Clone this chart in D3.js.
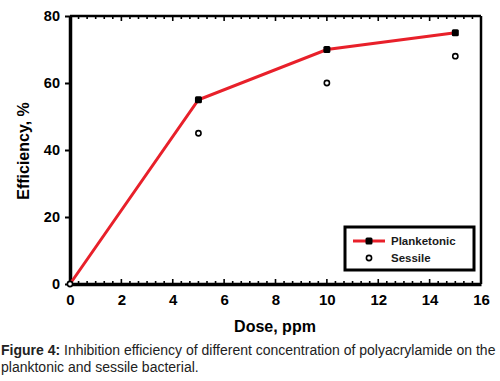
<!DOCTYPE html>
<html>
<head>
<meta charset="utf-8">
<script src="https://cdn.jsdelivr.net/npm/d3@7"></script>
<style>
  body { margin: 0; background: #fff; }
  svg { font-family: "Liberation Sans", Arial, sans-serif; }
</style>
</head>
<body>
<svg width="500" height="381"></svg>
<script>
// Data
const doses = [0, 5, 10, 15];
const planketonic = [0, 55, 70, 75];
const sessile = [0, 45, 60, 68];
const xTicks = [0, 2, 4, 6, 8, 10, 12, 14, 16];
const yTicks = [0, 20, 40, 60, 80];

const svg = d3.select("svg"),
    margin = { top: 16, right: 19, bottom: 97, left: 70 },
    width = 500 - margin.left - margin.right,
    height = 381 - margin.top - margin.bottom,
    g = svg.append("g").attr("transform", `translate(${margin.left},${margin.top})`);

const x = d3.scaleLinear().domain([0, 16]).range([0, width]);
const y = d3.scaleLinear().domain([0, 80]).range([height, 0]);

// minor ticks every 1/3 unit on the horizontal axes
const minor = d3.range(0, 16 * 3 + 1).map(i => i / 3);

// bottom minor/major ticks pointing inward
g.append("g")
    .selectAll("line")
    .data(minor)
    .join("line")
    .attr("x1", d => x(d)).attr("x2", d => x(d))
    .attr("y1", height)
    .attr("y2", (d, i) => height - (i % 6 === 0 ? 5 : 3))
    .attr("stroke", "#000").attr("stroke-width", 1.6);

// top ticks pointing down
g.append("g")
    .selectAll("line")
    .data(minor)
    .join("line")
    .attr("x1", d => x(d)).attr("x2", d => x(d))
    .attr("y1", 0)
    .attr("y2", (d, i) => (i % 6 === 0 ? 5 : 3))
    .attr("stroke", "#000").attr("stroke-width", 1.6);

// frame
g.append("line").attr("x1", 0).attr("x2", width).attr("y1", 0).attr("y2", 0)
    .attr("stroke", "#000").attr("stroke-width", 2.5);
g.append("line").attr("x1", width).attr("x2", width).attr("y1", 0).attr("y2", height)
    .attr("stroke", "#000").attr("stroke-width", 2.5);

// X axis
const xAxis = g.append("g")
    .attr("transform", `translate(0,${height})`)
    .call(d3.axisBottom(x).tickValues(xTicks).tickSize(0).tickPadding(10));
xAxis.select(".domain").attr("stroke-width", 3.5);
xAxis.selectAll("text")
    .attr("font-family", "Liberation Sans, Arial, sans-serif")
    .attr("font-size", 15).attr("font-weight", "bold").attr("fill", "#000");

// Y axis
const yAxis = g.append("g")
    .call(d3.axisLeft(y).tickValues(yTicks).tickSize(5).tickSizeOuter(0).tickPadding(5));
yAxis.select(".domain").attr("stroke-width", 3.5);
yAxis.selectAll(".tick line").attr("stroke-width", 2);
yAxis.selectAll("text")
    .attr("font-family", "Liberation Sans, Arial, sans-serif")
    .attr("font-size", 14.5).attr("font-weight", "bold").attr("fill", "#000");

// axis titles
svg.append("text")
    .attr("x", 275).attr("y", 332)
    .attr("text-anchor", "middle")
    .attr("font-size", 16).attr("font-weight", "bold")
    .text("Dose, ppm");

svg.append("text")
    .attr("transform", "rotate(-90)")
    .attr("x", -151).attr("y", 29)
    .attr("text-anchor", "middle")
    .attr("font-size", 16).attr("font-weight", "bold")
    .text("Efficiency, %");

// Planketonic line
const pts = doses.map((d, i) => ({ x: d, p: planketonic[i], s: sessile[i] }));
g.append("path")
    .datum(pts)
    .attr("fill", "none")
    .attr("stroke", "#e8202a")
    .attr("stroke-width", 3)
    .attr("d", d3.line().x(d => x(d.x)).y(d => y(d.p)));

g.selectAll(".pmark")
    .data(pts.slice(1))
    .join("rect")
    .attr("x", d => x(d.x) - 3.5).attr("y", d => y(d.p) - 3.5)
    .attr("width", 7).attr("height", 7).attr("rx", 1.5)
    .attr("fill", "#000");

g.selectAll(".smark")
    .data(pts)
    .join("circle")
    .attr("cx", d => x(d.x)).attr("cy", d => y(d.s))
    .attr("r", 2.6)
    .attr("fill", "#fff").attr("stroke", "#000").attr("stroke-width", 1.6);

// Legend
const lg = svg.append("g").attr("transform", "translate(345,227)");
lg.append("rect").attr("width", 129).attr("height", 43)
    .attr("fill", "#fff").attr("stroke", "#000").attr("stroke-width", 3);
lg.append("line").attr("x1", 8).attr("x2", 40).attr("y1", 14).attr("y2", 14)
    .attr("stroke", "#e8202a").attr("stroke-width", 3);
lg.append("rect").attr("x", 20.5).attr("y", 10.5).attr("width", 7).attr("height", 7)
    .attr("rx", 1.5).attr("fill", "#000");
lg.append("circle").attr("cx", 24).attr("cy", 31).attr("r", 2.6)
    .attr("fill", "#fff").attr("stroke", "#000").attr("stroke-width", 1.6);
lg.append("text").attr("x", 46).attr("y", 18)
    .attr("font-size", 11.5).attr("font-weight", "bold").attr("fill", "#1a1a1a")
    .text("Planketonic");
lg.append("text").attr("x", 46).attr("y", 35)
    .attr("font-size", 11.5).attr("font-weight", "bold").attr("fill", "#1a1a1a")
    .text("Sessile");

// Caption
const cap = svg.append("text").attr("font-size", 14).attr("fill", "#222");
cap.append("tspan").attr("x", 1).attr("y", 355).attr("font-weight", "bold").text("Figure 4:");
cap.append("tspan").text(" Inhibition efficiency of different concentration of polyacrylamide on the");
cap.append("tspan").attr("x", 1).attr("y", 372)
    .text("planktonic and sessile bacterial.");
</script>
</body>
</html>
